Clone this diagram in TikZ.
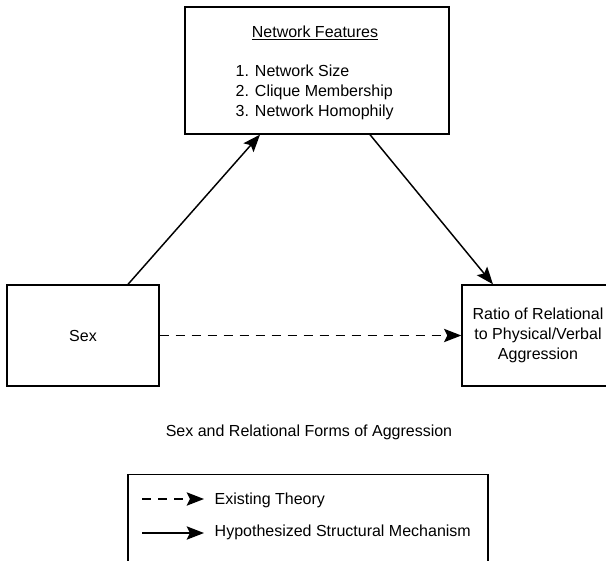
\documentclass[tikz,border=0pt]{standalone}
\usepackage{fontspec}
\setmainfont{Liberation Sans}
\usetikzlibrary{arrows.meta,positioning}
\tikzset{
	box/.style={draw,line width=1pt,inner sep=0pt},
	arrow/.style={line width=1.1pt,-{Stealth[length=13pt,width=10pt,inset=2.5pt]}},
	darrow/.style={arrow,dash pattern=on 7pt off 5pt}
}

\begin{document}
\begin{tikzpicture}[x=0.75pt,y=-0.75pt,font=\fontsize{12}{15}\selectfont]
	\useasboundingbox (0,0) rectangle (606,560);
	% boxes
	\node [box,minimum width=198pt,minimum height=95.25pt] (net) at (317,70.5) {};
	\node [box,minimum width=114pt,minimum height=75.75pt] (sex) at (83,335.5) {};
	\node [box,minimum width=114pt,minimum height=75.75pt] (ratio) at (538,335.5) {};
	\node [box,minimum width=270pt,minimum height=80pt,anchor=north] (legend) at (308,474) {};
	% texts
	\node (title) at (315,33) {\underline{Network Features}};
	\node [align=left,anchor=west] (list) at (231,92) {1. Network Size\\2. Clique Membership\\3. Network Homophily};
	\node (sexlabel) at (sex) {Sex};
	\node [align=center] (ratiolabel) at (ratio) {Ratio of Relational\\to Physical/Verbal\\Aggression};
	\node (caption) at (309,432) {Sex and Relational Forms of Aggression};
	% connectors
	\draw [arrow] ([xshift=33.75pt]sex.north) -- ([xshift=-42.75pt]net.south);
	\draw [arrow] ([xshift=39.75pt]net.south) -- ([xshift=-33.75pt]ratio.north);
	\draw [darrow] (sex) -- (ratio);
	% legend
	\coordinate (d1) at (142,499);
	\coordinate (d2) at (204,499);
	\coordinate (s1) at (142,533);
	\coordinate (s2) at (204,533);
	\draw [darrow] (d1) -- (d2);
	\draw [arrow] (s1) -- (s2);
	\node [anchor=west] (existing) at (210,500) {Existing Theory};
	\node [anchor=west] (hypo) at (210,532) {Hypothesized Structural Mechanism};
\end{tikzpicture}
\end{document}
